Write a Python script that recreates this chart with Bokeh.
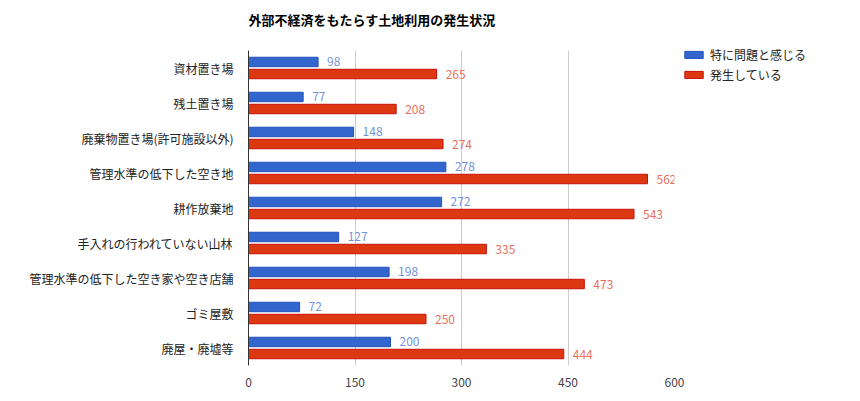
from bokeh.plotting import figure
from bokeh.models import ColumnDataSource, FactorRange, Range1d, FixedTicker, Legend, LegendItem, Title
from bokeh.transform import dodge
from bokeh.embed import file_html
from bokeh.resources import INLINE
from bokeh.core.properties import value

categories = ["資材置き場", "残土置き場", "廃棄物置き場(許可施設以外)", "管理水準の低下した空き地",
              "耕作放棄地", "手入れの行われていない山林", "管理水準の低下した空き家や空き店舗",
              "ゴミ屋敷", "廃屋・廃墟等"]
problem = [98, 77, 148, 278, 272, 127, 198, 72, 200]
occurring = [265, 208, 274, 562, 543, 335, 473, 250, 444]
series_names = ["特に問題と感じる", "発生している"]
x_ticks = [0, 150, 300, 450, 600]
title_text = "外部不経済をもたらす土地利用の発生状況"

FONT = "Noto Sans CJK JP"

src = ColumnDataSource(dict(cat=categories, problem=problem, occurring=occurring,
                            problem_txt=[str(v) for v in problem],
                            occurring_txt=[str(v) for v in occurring]))

p = figure(frame_width=426, frame_height=315, output_backend="svg", toolbar_location=None,
           y_range=FactorRange(factors=list(reversed(categories))),
           x_range=Range1d(0, 600),
           min_border_left=248, min_border_right=0, min_border_top=50, min_border_bottom=30)

p.title.text = title_text
p.title.text_font = FONT
p.title.text_font_size = "13px"
p.title.text_font_style = "bold"
p.title.text_color = "#000000"
p.title.align = "left"
p.title.standoff = 0

# empty spacer between the title and the plot area
p.add_layout(Title(text=" ", text_font_size="2px", standoff=18), "above")

bh = 0.27
r1 = p.hbar(y=dodge("cat", 0.172, range=p.y_range), right="problem", left=0, height=bh, source=src,
            fill_color="#3366cc", line_color="#2352bf", line_width=1)
r2 = p.hbar(y=dodge("cat", -0.172, range=p.y_range), right="occurring", left=0, height=bh, source=src,
            fill_color="#dc3912", line_color="#c8100a", line_width=1)

p.text(x="problem", y=dodge("cat", 0.172, range=p.y_range), text="problem_txt", source=src,
       x_offset=9, text_baseline="middle", text_align="left", text_font=value(FONT),
       text_font_size="12px", text_color="#7492dd")
p.text(x="occurring", y=dodge("cat", -0.172, range=p.y_range), text="occurring_txt", source=src,
       x_offset=9, text_baseline="middle", text_align="left", text_font=value(FONT),
       text_font_size="12px", text_color="#e8705c")

p.xaxis.ticker = FixedTicker(ticks=x_ticks)
p.xaxis.axis_line_color = None
p.xaxis.major_tick_line_color = None
p.xaxis.minor_tick_line_color = None
p.xaxis.major_label_standoff = 6
p.xaxis.major_label_text_font = FONT
p.xaxis.major_label_text_font_size = "12px"
p.xaxis.major_label_text_color = "#444444"

p.yaxis.axis_line_color = "#333333"
p.yaxis.major_tick_line_color = None
p.yaxis.minor_tick_line_color = None
p.yaxis.major_label_standoff = 9
p.yaxis.major_label_text_font = FONT
p.yaxis.major_label_text_font_size = "12px"
p.yaxis.major_label_text_color = "#222222"

p.xgrid.grid_line_color = "#cccccc"
p.ygrid.grid_line_color = None
p.outline_line_color = None

legend = Legend(items=[LegendItem(label=series_names[0], renderers=[r1]),
                       LegendItem(label=series_names[1], renderers=[r2])],
                location=(8, 282), orientation="vertical")
legend.glyph_width = 23
legend.glyph_height = 9
legend.label_height = 12
legend.spacing = 3
legend.padding = 0
legend.margin = 0
legend.label_standoff = 5
legend.label_text_font = FONT
legend.label_text_font_size = "12px"
legend.label_text_color = "#222222"
legend.border_line_color = None
legend.background_fill_alpha = 0
p.add_layout(legend, "right")

open("out.html", "w").write(file_html(p, INLINE))
